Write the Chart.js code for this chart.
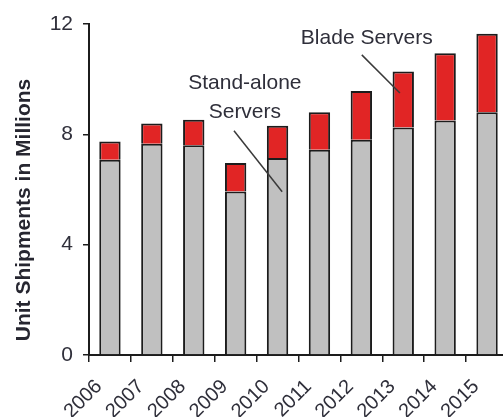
<!DOCTYPE html>
<html>
<head>
<meta charset="utf-8">
<script src="https://cdn.jsdelivr.net/npm/chart.js@4.4.0/dist/chart.umd.min.js"></script>
<style>
  html, body { margin: 0; padding: 0; background: #fff; overflow: hidden; width: 503px; height: 417px; }
  #wrap { width: 508px; height: 417px; }
</style>
</head>
<body>
<div id="wrap"><canvas id="c" width="508" height="417"></canvas></div>
<script>
// Server unit shipments, millions
const categories = ['2006', '2007', '2008', '2009', '2010', '2011', '2012', '2013', '2014', '2015'];
const standAlone = [7.08, 7.66, 7.60, 5.93, 7.14, 7.44, 7.80, 8.25, 8.50, 8.80];
const blade      = [0.66, 0.73, 0.93, 1.03, 1.17, 1.36, 1.77, 2.03, 2.44, 2.85];
const yTickValues = [0, 4, 8, 12];
const axisTitle = 'Unit Shipments in Millions';
const standAloneLabel = ['Stand-alone', 'Servers'];
const bladeLabel = ['Blade Servers'];

const FONT = "'Liberation Sans', Arial, Helvetica, sans-serif";
const TEXT = '#2f2f3a';
const INK = '#1c1c1c';

// Callouts placed in data space: x = category index, y = value
const callouts = [
  { lines: standAloneLabel, at: [3.22, 9.87], lineGap: 1.05, from: [2.96, 8.13], to: [4.11, 5.92] },
  { lines: bladeLabel,      at: [6.13, 11.5], lineGap: 1.05, from: [6.01, 10.88], to: [6.92, 9.50] }
];

const annotate = {
  id: 'annotate',
  afterDatasetsDraw(chart) {
    const { ctx, scales: { x, y } } = chart;
    ctx.save();
    ctx.strokeStyle = '#3a3a3a';
    ctx.lineWidth = 1.5;
    callouts.forEach(c => {
      ctx.beginPath();
      ctx.moveTo(x.getPixelForValue(c.from[0]), y.getPixelForValue(c.from[1]));
      ctx.lineTo(x.getPixelForValue(c.to[0]), y.getPixelForValue(c.to[1]));
      ctx.stroke();
    });
    ctx.fillStyle = TEXT;
    ctx.font = '21px ' + FONT;
    ctx.textAlign = 'center';
    ctx.textBaseline = 'middle';
    callouts.forEach(c => {
      c.lines.forEach((t, i) => {
        ctx.fillText(t, x.getPixelForValue(c.at[0]), y.getPixelForValue(c.at[1] - i * c.lineGap));
      });
    });
    // vertical axis title
    ctx.translate(24, 210);
    ctx.rotate(-Math.PI / 2);
    ctx.font = 'bold 21px ' + FONT;
    ctx.fillStyle = '#262630';
    ctx.fillText(axisTitle, 0, 0);
    ctx.restore();
  }
};

new Chart(document.getElementById('c'), {
  type: 'bar',
  data: {
    labels: categories,
    datasets: [
      {
        label: 'Stand-alone Servers',
        data: standAlone,
        backgroundColor: '#c0c0c0',
        borderColor: INK,
        borderWidth: 2
      },
      {
        label: 'Blade Servers',
        data: blade,
        backgroundColor: '#e12525',
        borderColor: INK,
        borderWidth: 2
      }
    ]
  },
  options: {
    responsive: false,
    devicePixelRatio: 1,
    animation: false,
    layout: { padding: { top: 24, right: 0, bottom: 0, left: 0 } },
    datasets: { bar: { barPercentage: 1, categoryPercentage: 0.51 } },
    plugins: { legend: { display: false }, tooltip: { enabled: false } },
    scales: {
      x: {
        stacked: true,
        offset: true,
        grid: { display: true, offset: true, drawOnChartArea: false, drawTicks: true, tickLength: 7, color: INK, lineWidth: 1.5 },
        border: { display: true, color: INK, width: 2 },
        ticks: {
          autoSkip: false, minRotation: 45, maxRotation: 45,
          font: { family: FONT, size: 20 }, color: TEXT, padding: 13, labelOffset: -11
        },
        afterFit(s) { s.height = 62; s.paddingLeft = 0; s.paddingRight = 0; }
      },
      y: {
        stacked: true,
        min: 0, max: 12,
        afterBuildTicks(s) { s.ticks = yTickValues.map(v => ({ value: v })); },
        grid: { display: true, drawOnChartArea: false, drawTicks: true, tickLength: 6, color: INK, lineWidth: 1.5 },
        border: { display: true, color: INK, width: 2 },
        ticks: { font: { family: FONT, size: 21 }, color: TEXT, padding: 10 },
        afterFit(s) { s.width = 89; }
      }
    }
  },
  plugins: [annotate]
});
</script>
</body>
</html>
